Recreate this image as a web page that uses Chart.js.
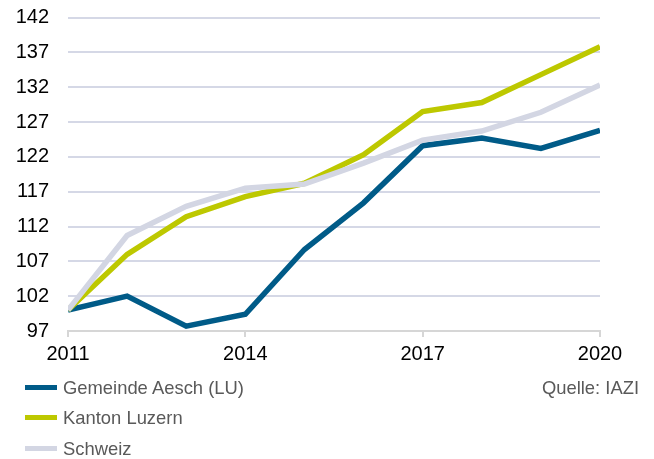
<!DOCTYPE html>
<html>
<head>
<meta charset="utf-8">
<script src="https://cdn.jsdelivr.net/npm/chart.js@4/dist/chart.umd.min.js"></script>
<style>
  html, body { margin: 0; padding: 0; background: #fff; }
  #wrap { position: relative; width: 654px; height: 459px; font-family: "Liberation Sans", Arial, sans-serif; }
  #chart { position: absolute; left: 0; top: 0; }
  .leg { position: absolute; left: 25px; font-size: 18.4px; color: #595959; line-height: 18px; }
  .leg span { display: inline-block; width: 32px; height: 5px; vertical-align: middle; margin-right: 6px; position: relative; top: -2px; }
  #quelle { position: absolute; right: 15px; top: 379px; font-size: 18.4px; color: #595959; line-height: 18px; }
</style>
</head>
<body>
<div id="wrap">
  <canvas id="chart" width="654" height="459"></canvas>
  <div class="leg" style="top:379px"><span style="background:#005b88"></span>Gemeinde Aesch (LU)</div>
  <div class="leg" style="top:409px"><span style="background:#bdc800"></span>Kanton Luzern</div>
  <div class="leg" style="top:440px"><span style="background:#d3d6e3"></span>Schweiz</div>
  <div id="quelle">Quelle: IAZI</div>
</div>
<script>
  // Werte (Index 2011 = 100)
  const jahre = [2011, 2012, 2013, 2014, 2015, 2016, 2017, 2018, 2019, 2020];
  const aesch = [100, 102.0, 97.7, 99.4, 108.7, 115.4, 123.6, 124.7, 123.2, 125.8];
  const luzern = [100, 108.0, 113.4, 116.3, 118.2, 122.3, 128.5, 129.8, 133.8, 137.8];
  const schweiz = [100, 110.7, 114.9, 117.5, 118.1, 121.1, 124.4, 125.7, 128.4, 132.3];

  const punkte = werte => werte.map((v, i) => ({ x: jahre[i], y: v }));

  const ctx = document.getElementById('chart').getContext('2d');
  new Chart(ctx, {
    type: 'line',
    data: {
      datasets: [
        { label: 'Gemeinde Aesch (LU)', data: punkte(aesch), borderColor: '#005b88', order: 2 },
        { label: 'Kanton Luzern', data: punkte(luzern), borderColor: '#bdc800', order: 1 },
        { label: 'Schweiz', data: punkte(schweiz), borderColor: '#d3d6e3', order: 0 }
      ]
    },
    options: {
      responsive: false,
      animation: false,
      layout: { padding: { left: 0, right: 54, top: 17.5, bottom: 88 } },
      elements: {
        line: { borderWidth: 5.5, tension: 0, fill: false },
        point: { radius: 0 }
      },
      plugins: { legend: { display: false }, tooltip: { enabled: false } },
      scales: {
        x: {
          type: 'linear',
          min: 2011,
          max: 2020,
          afterFit: s => { s.height = 40; },
          ticks: {
            stepSize: 3,
            padding: 5,
            color: '#000',
            font: { family: '"Liberation Sans", Arial, sans-serif', size: 20 },
            callback: v => String(v)
          },
          grid: { drawOnChartArea: false, tickLength: 6, color: '#d6d6d6', lineWidth: 2 },
          border: { display: true, color: '#d6d6d6', width: 2 }
        },
        y: {
          min: 97,
          max: 142,
          // feste Breite, und das Label-Padding nicht nach oben/unten wirken lassen
          afterFit: s => { s.width = 68; s.paddingTop = 0; s.paddingBottom = 0; },
          ticks: {
            stepSize: 5,
            padding: 19,
            color: '#000',
            font: { family: '"Liberation Sans", Arial, sans-serif', size: 20 }
          },
          grid: { drawTicks: false, color: '#d5d8e6', lineWidth: 2 },
          border: { display: false }
        }
      }
    }
  });
</script>
</body>
</html>
